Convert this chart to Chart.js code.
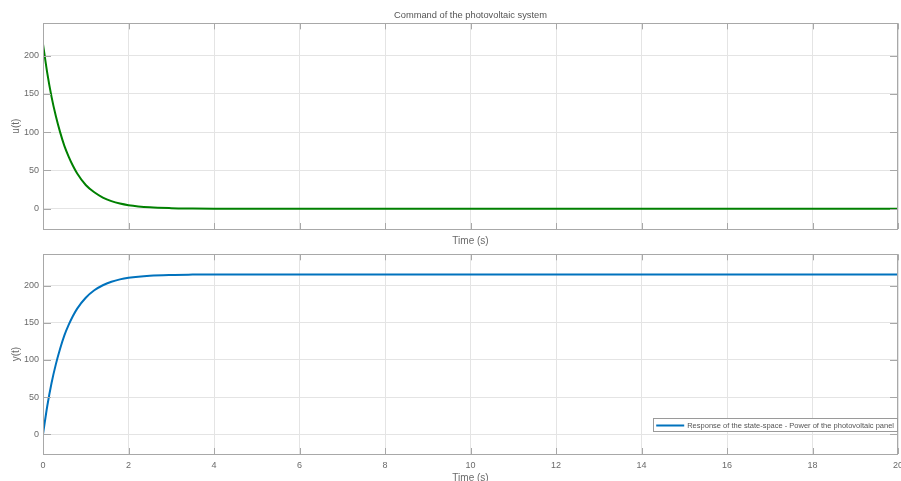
<!DOCTYPE html>
<html>
<head>
<meta charset="utf-8">
<script src="https://cdn.jsdelivr.net/npm/chart.js@4/dist/chart.umd.min.js"></script>
<style>
  html, body { margin: 0; padding: 0; background: #fff; width: 901px; height: 481px; overflow: hidden; }
  #wrapTop { position: absolute; left: 0; top: 0; width: 901px; height: 250px; }
  #wrapBottom { position: absolute; left: 0; top: 250px; width: 901px; height: 240px; }
</style>
</head>
<body>
<div id="wrapTop"><canvas id="cmd"></canvas></div>
<div id="wrapBottom"><canvas id="resp"></canvas></div>
<script>
// Simulation time samples (s)
const timeS = [0, 0.1, 0.2, 0.3, 0.4, 0.5, 0.6, 0.7, 0.8, 1.0, 1.2, 1.4, 1.6, 1.8, 2.0,
               2.5, 3.0, 3.5, 4, 6, 8, 10, 12, 14, 16, 18, 20];
// Command u(t)
const command = [215, 177, 146, 121, 100, 82, 68, 56, 46, 31, 21.4, 14.6, 9.9, 6.7, 4.6,
                 1.8, 0.7, 0.3, 0.1, 0, 0, 0, 0, 0, 0, 0, 0];
// Output y(t): power of the photovoltaic panel
const power = [0, 38, 69, 94, 115, 133, 147, 159, 169, 183.6, 193.6, 200.4, 205.1, 208.3, 210.4,
               213.2, 214.3, 214.7, 214.9, 215, 215, 215, 215, 215, 215, 215, 215];

const xTicks = [0, 2, 4, 6, 8, 10, 12, 14, 16, 18, 20];
const yTicks = [0, 50, 100, 150, 200];
const yMin = -26.5, yMax = 242;

const titleText = 'Command of the photovoltaic system';
const legendText = 'Response of the state-space - Power of the photovoltaic panel';

const FONT = 'Liberation Sans, Arial, Helvetica, sans-serif';
const TEXT = '#6a6a6a';
const GRID = '#e4e4e4';
const BOX = '#a8a8a8';

function points(ys) { return timeS.map((t, i) => ({ x: t, y: ys[i] })); }

// Box around the plot area with inward tick marks on all four sides
const boxPlugin = {
  id: 'axesBox',
  afterDatasetsDraw(chart) {
    const { ctx, chartArea: a, scales } = chart;
    ctx.save();
    ctx.strokeStyle = BOX;
    ctx.lineWidth = 1;
    ctx.strokeRect(Math.round(a.left) + 0.5, Math.round(a.top) + 0.5,
                   Math.round(a.right - a.left) - 1, Math.round(a.bottom - a.top));
    ctx.beginPath();
    scales.x.ticks.forEach(t => {
      const px = Math.round(scales.x.getPixelForValue(t.value)) + 0.5;
      ctx.moveTo(px, a.top); ctx.lineTo(px, a.top + 6);
      ctx.moveTo(px, a.bottom); ctx.lineTo(px, a.bottom - 6);
    });
    scales.y.ticks.forEach(t => {
      const py = Math.round(scales.y.getPixelForValue(t.value)) + 0.5;
      ctx.moveTo(a.left, py); ctx.lineTo(a.left + 8, py);
      ctx.moveTo(a.right, py); ctx.lineTo(a.right - 8, py);
    });
    ctx.stroke();
    ctx.restore();
  }
};

// Legend box drawn inside the lower-right corner of the plot area
const insideLegend = {
  id: 'insideLegend',
  afterDraw(chart) {
    const ds = chart.data.datasets[0];
    const { ctx, chartArea: a } = chart;
    ctx.save();
    ctx.font = '7.5px ' + FONT;
    const tw = ctx.measureText(ds.label).width;
    const h = 13;
    const w = 3 + 28 + 3 + tw + 3;
    const right = a.right - 1;
    const bottom = a.bottom - 23;
    const left = right - w;
    const top = bottom - h;
    ctx.fillStyle = '#ffffff';
    ctx.fillRect(left, top, w, h);
    ctx.strokeStyle = '#9a9a9a';
    ctx.lineWidth = 1;
    ctx.strokeRect(Math.round(left) + 0.5, Math.round(top) + 0.5, Math.round(w), Math.round(h));
    const cy = Math.round(top + h / 2) + 0.5;
    ctx.strokeStyle = ds.borderColor;
    ctx.lineWidth = 2;
    ctx.beginPath();
    ctx.moveTo(left + 3, cy); ctx.lineTo(left + 31, cy);
    ctx.stroke();
    ctx.fillStyle = '#555555';
    ctx.textBaseline = 'middle';
    ctx.fillText(ds.label, left + 34, cy + 0.5);
    ctx.restore();
  }
};

function baseOptions(opts) {
  return {
    responsive: true,
    maintainAspectRatio: false,
    animation: false,
    events: [],
    layout: { padding: { left: 0, right: 3, top: opts.padTop, bottom: 0 } },
    plugins: {
      legend: { display: false },
      tooltip: { enabled: false },
      title: opts.title
    },
    elements: { point: { radius: 0 } },
    scales: {
      x: {
        type: 'linear', min: 0, max: 20,
        afterBuildTicks(s) { s.ticks = xTicks.map(v => ({ value: v })); },
        afterFit(s) { s.height = opts.xHeight; s.paddingLeft = 0; s.paddingRight = 0; },
        grid: { color: GRID, drawTicks: false },
        border: { display: false },
        ticks: {
          display: opts.xLabels, autoSkip: false, maxRotation: 0, padding: 6,
          color: TEXT, font: { family: FONT, size: 9 }
        },
        title: {
          display: true, text: 'Time (s)', color: TEXT,
          font: { family: FONT, size: 10 }, padding: { top: 0, bottom: opts.xTitlePad }
        }
      },
      y: {
        type: 'linear', min: yMin, max: yMax,
        afterBuildTicks(s) { s.ticks = yTicks.map(v => ({ value: v })); },
        afterFit(s) { s.width = 43; s.paddingTop = 0; s.paddingBottom = 0; },
        grid: { color: GRID, drawTicks: false },
        border: { display: false },
        ticks: { padding: 4, color: TEXT, font: { family: FONT, size: 9 } },
        title: {
          display: true, text: opts.yTitle, color: TEXT,
          font: { family: FONT, size: 10 }, padding: { top: 10, bottom: 0 }
        }
      }
    }
  };
}

new Chart(document.getElementById('cmd'), {
  type: 'line',
  data: {
    datasets: [{
      label: 'u(t)',
      data: points(command),
      borderColor: '#008000',
      borderWidth: 2,
      cubicInterpolationMode: 'monotone',
      fill: false
    }]
  },
  options: baseOptions({
    padTop: 0, xHeight: 21, xLabels: false, xTitlePad: 3, yTitle: 'u(t)',
    title: {
      display: true, text: titleText, color: '#555555', fullSize: false,
      font: { family: FONT, size: 9.3, weight: 'normal' },
      padding: { top: 10, bottom: 2.2 }
    }
  }),
  plugins: [boxPlugin]
});

new Chart(document.getElementById('resp'), {
  type: 'line',
  data: {
    datasets: [{
      label: legendText,
      data: points(power),
      borderColor: '#0072BD',
      borderWidth: 2,
      cubicInterpolationMode: 'monotone',
      fill: false
    }]
  },
  options: baseOptions({
    padTop: 4.3, xHeight: 36, xLabels: true, xTitlePad: 6, yTitle: 'y(t)',
    title: { display: false }
  }),
  plugins: [boxPlugin, insideLegend]
});
</script>
</body>
</html>
